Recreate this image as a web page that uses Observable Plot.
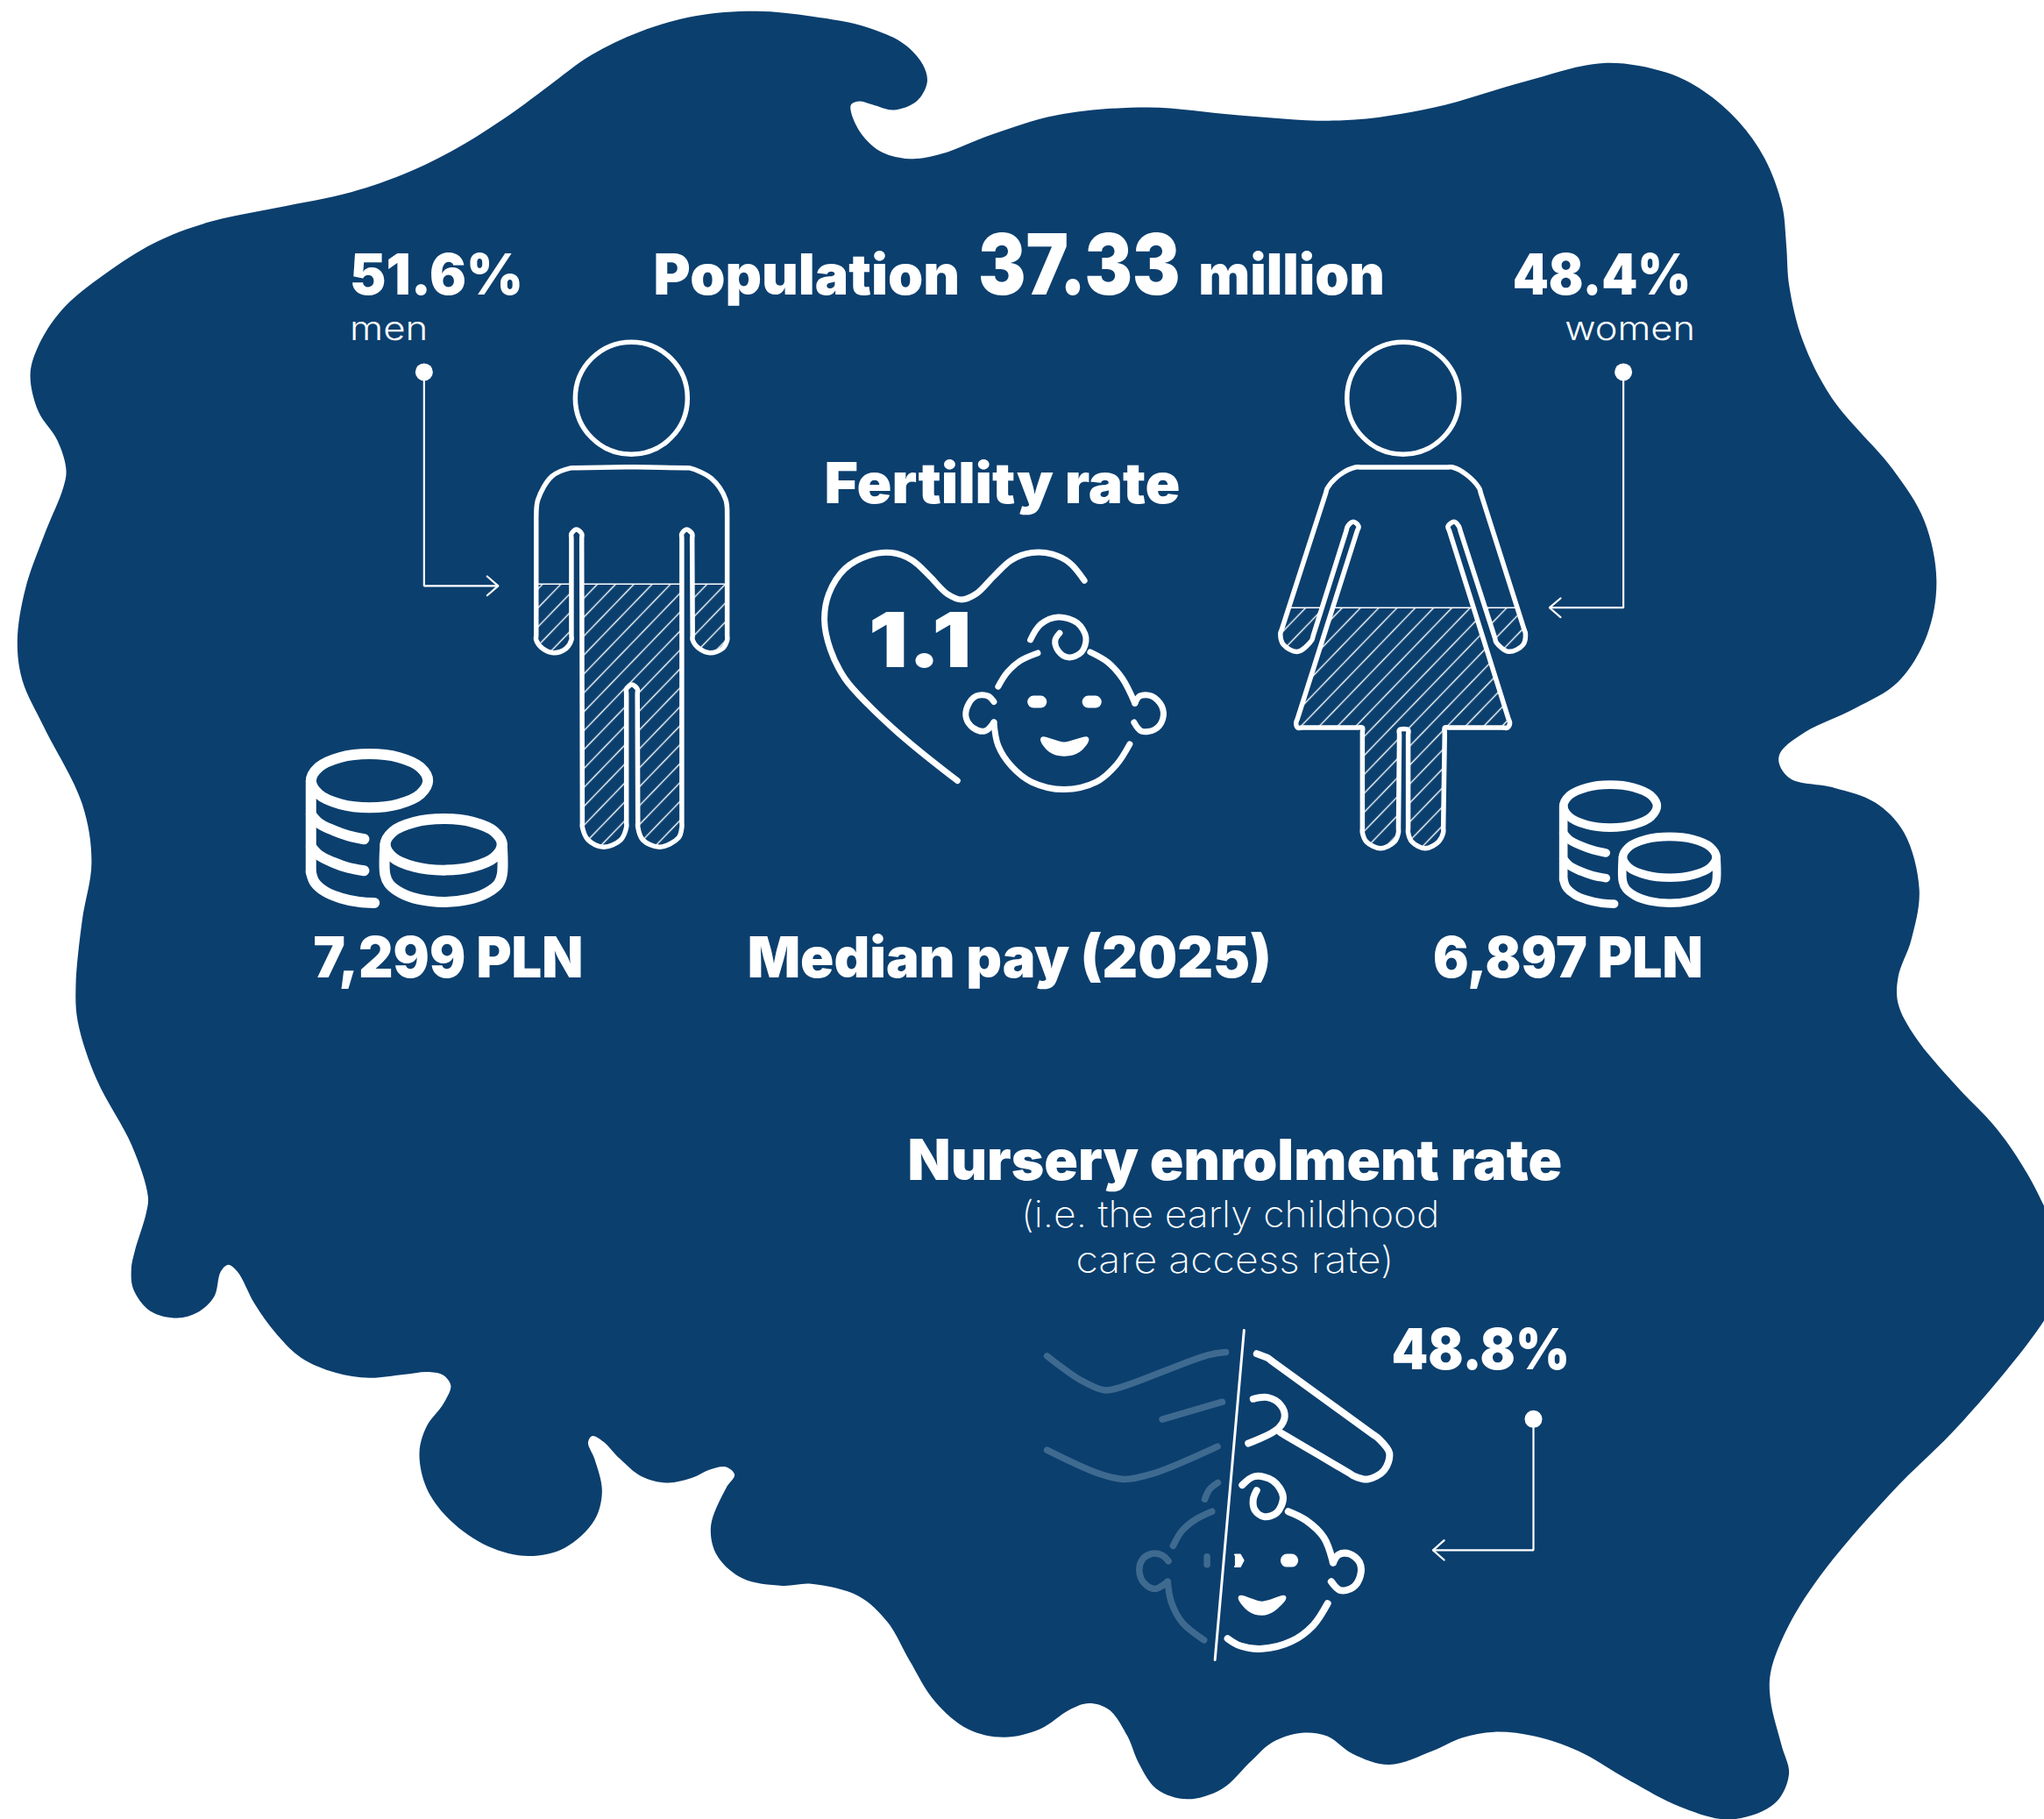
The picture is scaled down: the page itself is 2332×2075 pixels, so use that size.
<!DOCTYPE html>
<html><head><meta charset="utf-8">
<script src="https://cdn.jsdelivr.net/npm/d3@7"></script>
<script src="https://cdn.jsdelivr.net/npm/@observablehq/plot@0.6"></script>
<style>html,body{margin:0;padding:0;background:#fff}svg{display:block}</style>
</head><body><div id="chart"></div>
<script>
const navy="#0b3f6e", faded="#3f6a90";
const blob=[[580,8.3],[622.7,12.3],[665,20.6],[693.4,33.6],[707.6,49.3],[710.9,62.7],[702.8,77.3],[685,84],[669.8,80.2],[659,77.3],[652.4,80.2],[658,98.6],[674.5,115.4],[698,121.5],[721.7,117.7],[760,103],[810,88],[880,82],[950,88],[1030,92],[1100,82],[1170,62],[1230,48],[1277.6,55.2],[1306.6,69.6],[1333.3,92.8],[1353.3,121],[1366.7,157],[1370,188],[1372.2,218.9],[1382.3,260],[1405,305],[1452,360],[1475.8,399],[1485.2,445],[1478,486.5],[1455.8,522.5],[1422.4,543],[1384.5,561],[1365.6,576.5],[1364.5,585.3],[1373.4,597],[1406.8,603.8],[1437.9,615],[1460.2,638],[1472,682],[1465.8,720.6],[1455.8,748.9],[1455.8,769.5],[1469,795],[1500,832],[1532,866],[1555,900],[1568,925],[1590,970],[1568,1012],[1505,1090],[1450,1145],[1398.7,1204.6],[1372,1246],[1358,1282],[1358,1304.4],[1366.3,1338],[1372,1360.4],[1361,1382.8],[1327.3,1395],[1288,1385],[1249.2,1364.9],[1210.2,1342.4],[1176.8,1331.2],[1146,1327.9],[1121,1332.4],[1098.7,1342.4],[1065.3,1353],[1037.4,1344.7],[1017.9,1331.2],[998.4,1328.6],[976,1335.7],[959.4,1350.3],[937,1371.6],[910.3,1379.4],[886.9,1371.6],[873,1351.4],[864.6,1331.2],[850.6,1311],[835,1306],[820,1311],[797.7,1325.6],[769.8,1332],[742,1325.6],[716.8,1304.4],[697.3,1273],[680.6,1243.8],[658.3,1223.7],[622,1214.3],[599.8,1215.8],[569,1210],[549.6,1192.3],[545,1170],[556.7,1140.8],[563.2,1130.7],[556.7,1124.7],[543.6,1126.9],[530.6,1133],[511,1136.8],[491.5,1131.8],[475.2,1118.4],[462.2,1105],[454,1100.9],[450.8,1106],[455.7,1118.4],[461.5,1143],[455.7,1165.4],[432.9,1186.7],[405.2,1193],[374.2,1185.6],[344.9,1165.4],[326.9,1140.8],[321.4,1113.9],[326.9,1093.7],[340,1075.8],[345.5,1062.4],[340,1054.5],[328.6,1051.8],[309,1053.8],[283,1056.3],[256.9,1052.3],[230.8,1041],[211.2,1022],[195,999.6],[181.9,975],[174.7,969.6],[168.9,975],[164,994],[151,1006.3],[135.6,1010.4],[115.1,1005.2],[102,988.4],[100.4,972.7],[103,959.3],[111.8,930],[113.2,917.3],[100.8,878.2],[74,828],[59.4,783.5],[57.8,755.6],[62.7,705.4],[69.9,660.8],[62.7,616.2],[33.6,557.7],[16.8,521.4],[13,490.8],[19,451.7],[33.6,410],[48.2,373.7],[50.4,359.8],[43.7,337.5],[29.1,315.2],[22.9,287.3],[28.3,266.7],[47,237.5],[80,210],[118,186],[160,170],[212,159],[269,147],[310,133],[349,114],[391.5,87],[420,66],[453,42],[490.6,24],[533,12]];

const manBody=[[437.5,358.6],[484,357.8],[528.7,358.6],[545.5,366.7],[556.4,383],[557.5,396],[557.5,490.5],[554,497],[544.3,500.3],[536,497],[531,490.5],[530.6,409],[526.3,405.8],[522.7,409],[522.7,634],[520.3,642],[505.9,649.3],[492.7,643.7],[489,634],[488.6,528],[484.3,524.8],[480.2,528],[480.2,634],[475.9,643.7],[462.7,649.3],[450.7,643.7],[446.4,634],[445.9,409],[441.8,405.8],[438,409],[438,490.5],[433.9,497],[424.3,500.3],[415.9,497],[411,490.5],[411,396],[412.3,383],[423,365]];
const manHatch=[
 [[411,447.5],[438,447.5],[438,490.5],[433.9,497],[424.3,500.3],[415.9,497],[411,490.5]],
 [[445.9,447.5],[522.7,447.5],[522.7,634],[520.3,642],[505.9,649.3],[492.7,643.7],[489,634],[488.6,528],[484.3,524.8],[480.2,528],[480.2,634],[475.9,643.7],[462.7,649.3],[450.7,643.7],[446.4,634]],
 [[531,447.5],[557.5,447.5],[557.5,490.5],[554,497],[544.3,500.3],[536,497],[531,490.5]]];
const womanBody=[[1039.5,358],[1114,358],[1124.8,363.8],[1134.4,374.1],[1169.9,485.6],[1168,494.2],[1157.2,499.4],[1147.6,492.5],[1118.8,403.3],[1115.2,399.9],[1110.4,403.3],[1157.9,554.3],[1156,557.7],[1108,557.7],[1106.8,638.3],[1103.2,645.2],[1093,650.3],[1082.7,645.2],[1079.9,638.3],[1079.9,559.4],[1073.2,559.4],[1072.4,638.3],[1069.5,645.2],[1058.7,650.3],[1047.9,645.2],[1044.8,638.3],[1044.8,557.7],[995.1,557.7],[993.9,554.3],[1041.9,403.3],[1037.9,399.9],[1033.5,403.3],[1005.9,490.8],[995.1,499.4],[984.3,494.2],[981.9,485.6],[1017.9,374.1],[1027.5,363.8]];
const womanHatch=[
 [[988.3,465.7],[1013.8,465.7],[1005.9,490.8],[995.1,499.4],[984.3,494.2],[981.9,485.6]],
 [[1022,465.7],[1130,465.7],[1157.9,554.3],[1156,557.7],[1108,557.7],[1106.8,638.3],[1103.2,645.2],[1093,650.3],[1082.7,645.2],[1079.9,638.3],[1079.9,559.4],[1073.2,559.4],[1072.4,638.3],[1069.5,645.2],[1058.7,650.3],[1047.9,645.2],[1044.8,638.3],[1044.8,557.7],[995.1,557.7],[993.9,554.3]],
 [[1139,465.7],[1163.6,465.7],[1169.9,485.6],[1168,494.2],[1157.2,499.4],[1147.6,492.5]]];
const heads=[[484,305],[1076,305]];
const waterLines=[[[411,447.5],[438,447.5]],[[445.9,447.5],[522.7,447.5]],[[531,447.5],[557.5,447.5]],[[988.3,465.7],[1013.8,465.7]],[[1022,465.7],[1130,465.7]],[[1139,465.7],[1163.6,465.7]]];

const connectors=[
 [[325,285],[325,449],[381.8,449]],
 [[373.4,441.7],[381.8,449],[373.4,456.3]],
 [[1245,285],[1245,465.7],[1188.4,465.7]],
 [[1196.8,458.5],[1188.4,465.7],[1196.8,473]],
 [[1176,1088],[1176,1188.5],[1099,1188.5]],
 [[1107.5,1181],[1099,1188.5],[1107.5,1196]]];
const connectorDots=[[325,285],[1245,285],[1176,1088]];

const heart=[[831.5,444.9],[820.3,431.4],[806.9,424.7],[791.2,423.6],[775.5,429.2],[762.1,441.5],[748.6,455],[737.4,459.5],[726.2,455],[712.8,441.5],[699.3,429.2],[683.6,423.6],[665.7,425.8],[647.8,435.9],[635.5,455],[632.1,475.1],[636.6,497.6],[647.8,520],[665.7,540.1],[694.8,567],[734.1,598.4]];
const baby1=[
 [[790.1,490.4],[797.9,478.5],[811.4,472.9],[826,477.4],[832.7,488.6],[829.3,499.8],[819.2,503.8],[811.4,498.7],[809.1,490.8],[812.5,485.2]],
 [[795.7,500.5],[782.2,506.5],[772.2,515.5],[765.4,526.2]],
 [[836,499.8],[849.5,507.6],[860.7,520],[870.3,539]],
 [[870.3,539],[874.1,533.4],[883.1,533.4],[890.9,541.2],[891.6,551.3],[885.4,559.2],[875.2,560.3],[869.6,553.6]],
 [[762.1,537.9],[757.6,533.4],[748.6,533.4],[741.9,541.2],[740.8,550.2],[746.4,558],[755.3,560.3],[762.1,553.6]],
 [[762.1,553.6],[765.4,571.5],[775.5,587.2],[791.2,599.5],[815.9,605.1],[840.5,599.5],[856.2,586.1],[866.3,570.4]]];
const baby1Smile=[[799.5,566.5],[815.9,570.4],[833.3,566.5],[827,575],[815.9,578],[805.5,575]];
const baby1Eyes=[[[792.5,537.9],[798,537.9]],[[834.5,537.9],[840,537.9]]];

const nurseryFaded=[
 [[802.9,1039.6],[828.5,1058],[846.6,1065.8],[859.2,1063.6],[926.1,1038.9],[940,1036.7]],
 [[891.3,1088.2],[937.3,1074.8]],
 [[802.9,1111.7],[842.5,1129.7],[862,1134.1],[884.3,1129.7],[933.6,1109]],
 [[923.9,1149.4],[927.5,1142],[933.9,1136.8]],
 [[929.4,1158.8],[917.7,1164.4],[906.6,1173.4],[899.6,1185.2]],
 [[896,1196.9],[891.2,1192.4],[882.9,1191.3],[875.9,1195.8],[873.7,1204.7],[877.3,1213.7],[885.7,1218.2],[895.4,1212.6]],
 [[895.4,1212.6],[898.2,1228.3],[906.6,1244],[923.3,1257.4]],
 [[925.6,1193.5],[925.6,1199.5]]];
const nurseryHand=[[963.7,1037.8],[972.1,1041.1],[1057.1,1102.8],[1065.5,1114],[1061.3,1127.4],[1048.8,1134.1],[1039,1131.9],[981.9,1098.3]];
const nurseryWhite=[
 [[961,1072.5],[972.1,1071.4],[981.9,1077],[985.2,1086],[980.5,1094.9],[957.3,1106.6]],
 [[952.6,1138.6],[962.3,1131.9],[976.3,1135.3],[984,1147.6],[979,1159.9],[969.3,1162.8],[962.3,1157.7],[961,1149.8],[963.7,1142.7]],
 [[987.9,1158.8],[1001.4,1165.5],[1015.3,1178.9],[1022.3,1198]],
 [[1022.3,1198],[1026.5,1192],[1034.8,1191.3],[1042.7,1198],[1043.2,1208.1],[1037.6,1217],[1027.9,1219.3],[1020.9,1212.6]],
 [[1018.1,1229.4],[1007,1246.2],[990.2,1258.5],[968,1264.1],[951.2,1261.9],[941.4,1256.3]]];
const nurserySmile=[[951.2,1224.9],[968,1229.4],[984.7,1224.9],[976.3,1233.9],[968,1236.9],[958.2,1233.9]];
const nurseryEyeFull=[[987,1196.4],[990.5,1196.4]];
const nurseryEyeHalf=[[947,1192],[951,1192],[953.5,1196.4],[951,1201],[947,1201]];
const divider=[[954,1019.9],[931.7,1272.6]];

// coin icon, relative to the centre of the top coin
const unitCircle=[[1,0],[.87,.5],[.5,.87],[0,1],[-.5,.87],[-.87,.5],[-1,0],[-.87,-.5],[-.5,-.87],[0,-1],[.5,-.87],[.87,-.5]];
const coinStack=[
 [[-44.9,25.8],[-38.8,32.5],[-27.6,38.1],[-16.4,42.1],[-4.1,44.8]],
 [[-44.9,50.4],[-38.8,57.1],[-27.6,62.7],[-16.4,66.7],[-4.1,69]],
 [[-44.9,70],[-42,78],[-34,85],[-22,90],[-8,93],[3.8,93.7]]];
const coinColumn=[[-44.9,0],[-44.9,70]];
const coinLower=[[12,48.9],[12,72],[15,79],[24,86],[38,91],[56.9,93],[76,91],[90,86],[99,79],[101.7,72],[101.7,48.9]];
const coinEllipses=[{c:[0,0],rx:44.8,ry:20.6},{c:[56.9,48.9],rx:44.8,ry:19.7}];
const coinPlaces=[{at:[283.1,598.4],k:1,w:12},{at:[1234.9,617.9],k:.8,w:9.6}];

const labelText=["51.6%","men","Population","37.33","million","48.4%","women","Fertility rate","1.1","7,299 PLN","Median pay (2025)","6,897 PLN","Nursery enrolment rate","(i.e. the early childhood","care access rate)","48.8%"];
const labelX=[268,268,501,750,919,1160,1200,632,666,240,573,1099,696,783,825,1067];
const labelY=[225.5,260.5,225.5,225.5,225.5,225.5,260.5,385.5,511.5,749.5,749.5,749.5,904.5,941,976,1049.5];
const labelW=[133,60,235,155,143,137,100,273,79,207,402,207,502,321,244,137];
const labelSize=[64,38,64,96,64,64,38,64,86,64,64,64,64,42,42,64];
const labelWeight=[900,300,900,900,900,900,300,900,900,900,900,900,900,250,250,900];

// Keep long straight runs straight under the spline: add a knot near each end of a long segment.
const straighten=(pts,closed=true,L=30,d=4)=>{
  const out=[];const n=pts.length;
  for(let i=0;i<n;i++){
    const a=pts[i];out.push(a);
    if(!closed&&i===n-1)break;
    const b=pts[(i+1)%n];const l=Math.hypot(b[0]-a[0],b[1]-a[1]);
    if(l>L){const u=[(b[0]-a[0])/l,(b[1]-a[1])/l];
      out.push([a[0]+u[0]*d,a[1]+u[1]*d],[b[0]-u[0]*d,b[1]-u[1]*d]);}
  }
  return out;
};
const ln=(pts,o={})=>Plot.line(pts,{x:d=>d[0],y:d=>d[1],curve:"catmull-rom",stroke:"white",strokeWidth:7,...o});

const defs=()=>{
  const s=d3.create("svg:defs");
  const p=s.append("pattern").attr("id","hatch").attr("patternUnits","userSpaceOnUse")
    .attr("width",15).attr("height",15).attr("patternTransform","rotate(-46)");
  p.append("line").attr("x1",0).attr("x2",15).attr("y1",7.5).attr("y2",7.5).attr("stroke","white").attr("stroke-width",1.4);
  return s.node();
};

const coinMarks=coinPlaces.flatMap(({at,k,w})=>{
  const m=(pts)=>pts.map(([x,y])=>[at[0]+k*x,at[1]+k*y]);
  return [
    ...coinEllipses.map(e=>ln(unitCircle.map(([x,y])=>[at[0]+k*(e.c[0]+e.rx*x),at[1]+k*(e.c[1]+e.ry*y)]),{curve:"catmull-rom-closed",strokeWidth:w})),
    ln(m(coinColumn),{curve:"linear",strokeWidth:w}),
    ...coinStack.map(p=>ln(m(p),{strokeWidth:w})),
    ln(m(coinLower),{strokeWidth:w})
  ];
});

const textMarks=labelText.map((t,i)=>Plot.text([t],{
  x:labelX[i],y:labelY[i],text:d=>d,textAnchor:"start",lineAnchor:"bottom",
  fontFamily:"Inter, Lato, sans-serif",fontSize:labelSize[i],fontWeight:labelWeight[i],fill:"white"}));

const chart=Plot.plot({
  width:2332,height:2075,margin:0,
  x:{domain:[0,1568],range:[0,2332],axis:null},
  y:{domain:[0,1395],range:[0,2075],axis:null},
  marks:[
    defs,
    Plot.line(blob,{x:d=>d[0],y:d=>d[1],curve:"catmull-rom-closed",fill:navy,stroke:"none"}),
    ...[...manHatch,...womanHatch].map(h=>Plot.line(h,{x:d=>d[0],y:d=>d[1],curve:"linear",fill:"url(#hatch)",stroke:"none"})),
    ...waterLines.map(w=>ln(w,{curve:"linear",strokeWidth:1.5})),
    ln(straighten(manBody),{curve:"catmull-rom-closed",strokeWidth:5.5}),
    ln(straighten(womanBody),{curve:"catmull-rom-closed",strokeWidth:5.5}),
    Plot.dot(heads,{x:d=>d[0],y:d=>d[1],r:64,stroke:"white",strokeWidth:5.5,fill:"none"}),
    ...connectors.map(c=>ln(c,{curve:"linear",strokeWidth:2.2,strokeLinejoin:"miter"})),
    Plot.dot(connectorDots,{x:d=>d[0],y:d=>d[1],r:10,fill:"white",stroke:"none"}),
    ln(heart),
    ...baby1.map(b=>ln(b)),
    ln(baby1Smile,{curve:"catmull-rom-closed",fill:"white",strokeWidth:5}),
    ...baby1Eyes.map(e=>ln(e,{strokeWidth:14})),
    ...nurseryFaded.map(b=>ln(b,{stroke:faded,strokeWidth:7.5})),
    ln(straighten(nurseryHand,false,30,5),{strokeWidth:8}),
    ...nurseryWhite.map(b=>ln(b,{strokeWidth:8})),
    ln(nurserySmile,{curve:"catmull-rom-closed",fill:"white",strokeWidth:5}),
    ln(nurseryEyeFull,{strokeWidth:15}),
    ln(nurseryEyeHalf,{curve:"linear",fill:"white",strokeWidth:2}),
    ln(divider,{curve:"linear",strokeWidth:3}),
    ...coinMarks,
    ...textMarks
  ]
});
document.getElementById("chart").append(chart);
const scaleX=2332/1568;
chart.querySelectorAll("text").forEach(el=>{
  const i=labelText.indexOf(el.textContent);
  if(i>=0){el.setAttribute("textLength",labelW[i]*scaleX);el.setAttribute("lengthAdjust","spacingAndGlyphs");}
});
</script></body></html>
